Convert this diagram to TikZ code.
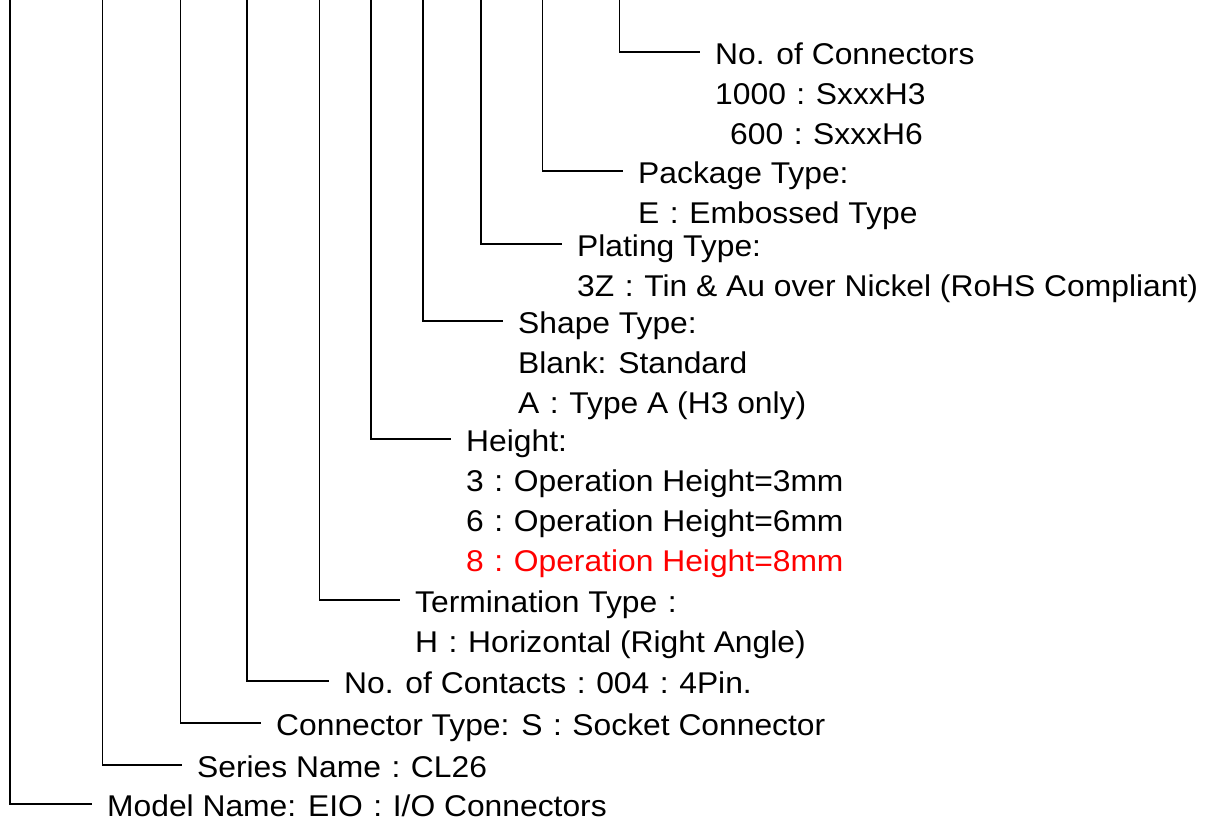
\documentclass[tikz,border=0pt]{standalone}
\usepackage{fontspec}
\setmainfont{Liberation Sans}[FakeStretch=1.06]
\usepackage{xcolor}
\definecolor{alert}{RGB}{255,0,0}
\usepackage{tikz}
\usetikzlibrary{positioning}
\newcommand{\wcol}{\makebox[1em]{:}}

\begin{document}
\begin{tikzpicture}[
  x=1pt,y=1pt,
  lbl/.style={anchor=west,inner xsep=15pt,inner ysep=0pt,
              text height=25pt,text depth=0pt,
              font=\fontsize{30}{36}\selectfont},
  sub/.style={lbl,below=of #1.south west,anchor=north west},
  lead/.style={draw,line width=1.9pt},
  node distance=14.5pt,
]
  \useasboundingbox (0,0) rectangle (1215,-826);

  \node[lbl](con) at (700,-52){No. of Connectors};
  \node[sub=con](con1){1000\wcol SxxxH3};
  \node[sub=con1](con2){\hspace*{15pt}600\wcol SxxxH6};

  \node[lbl](pkg) at (623,-171){Package Type:};
  \node[sub=pkg](pkg1){E\wcol Embossed Type};

  \node[lbl](plt) at (562,-244){Plating Type:};
  \node[sub=plt](plt1){3Z\wcol Tin \& Au over Nickel (RoHS Compliant)};

  \node[lbl](shp) at (503,-321){Shape Type:};
  \node[sub=shp](shp1){Blank: Standard};
  \node[sub=shp1](shp2){A\wcol Type A (H3 only)};

  \node[lbl](hgt) at (451,-439){Height:};
  \node[sub=hgt](hgt1){3\wcol Operation Height=3mm};
  \node[sub=hgt1](hgt2){6\wcol Operation Height=6mm};
  \node[sub=hgt2,text=alert](hgt3){8\wcol Operation Height=8mm};

  \node[lbl](trm) at (400,-600){Termination Type\wcol};
  \node[sub=trm](trm1){H\wcol Horizontal (Right Angle)};

  \node[lbl](pin) at (329,-681){No. of Contacts\wcol 004\wcol 4Pin.};
  \node[lbl](typ) at (261,-723){Connector Type: S\wcol Socket Connector};
  \node[lbl](ser) at (182,-765){Series Name\wcol CL26};
  \node[lbl](mdl) at (92,-804){Model Name: EIO\wcol I/O Connectors};

  % leads from the top edge
  \coordinate(t-mdl) at (10,0);
  \coordinate(t-ser) at (102.5,0);
  \coordinate(t-typ) at (180.5,0);
  \coordinate(t-pin) at (247,0);
  \coordinate(t-trm) at (319.5,0);
  \coordinate(t-hgt) at (371,0);
  \coordinate(t-shp) at (423,0);
  \coordinate(t-plt) at (481,0);
  \coordinate(t-pkg) at (542.5,0);
  \coordinate(t-con) at (619.5,0);

  \draw[lead](t-mdl) |- (mdl.west);
  \draw[lead](t-ser) |- (ser.west);
  \draw[lead](t-typ) |- (typ.west);
  \draw[lead](t-pin) |- (pin.west);
  \draw[lead](t-trm) |- (trm.west);
  \draw[lead](t-hgt) |- (hgt.west);
  \draw[lead](t-shp) |- (shp.west);
  \draw[lead](t-plt) |- (plt.west);
  \draw[lead](t-pkg) |- (pkg.west);
  \draw[lead](t-con) |- (con.west);
\end{tikzpicture}
\end{document}
